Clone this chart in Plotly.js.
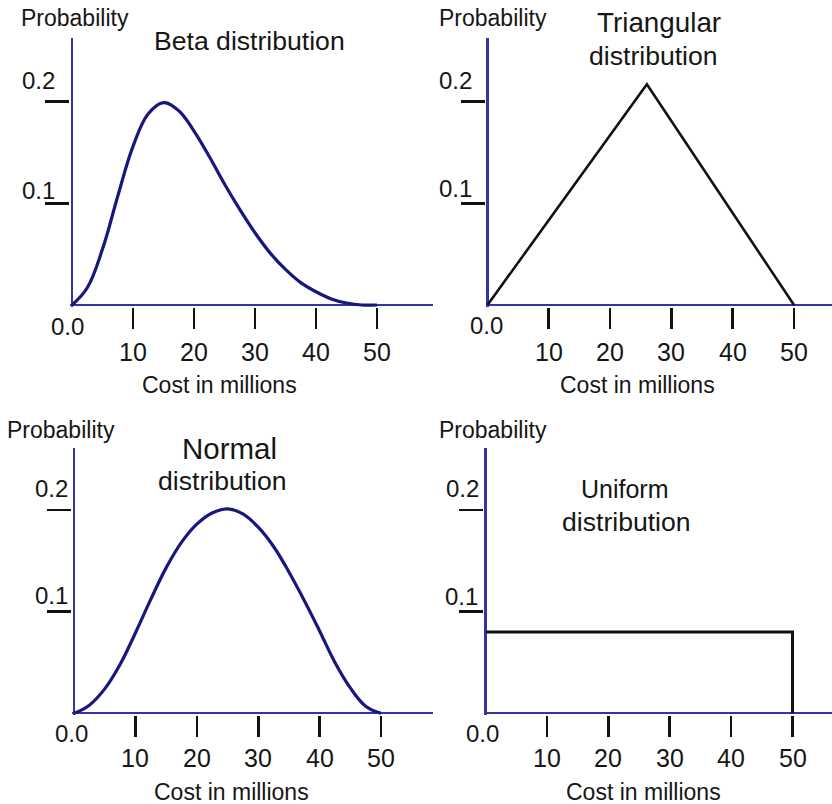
<!DOCTYPE html>
<html>
<head>
<meta charset="utf-8">
<script src="https://cdn.plot.ly/plotly-3.0.1.min.js"></script>
<style>html,body{margin:0;padding:0;background:#fff;}#chart{width:832px;height:804px;}</style>
</head>
<body>
<div id="chart"></div>
<script>
// ---------- data ----------
const costX = [0, 2.5, 5, 7.5, 10, 12.5, 15, 17.5, 20, 22.5, 25, 27.5, 30, 32.5, 35, 37.5, 40, 42.5, 45, 47.5, 50];
const betaP = [0, 0.017, 0.055, 0.107, 0.156, 0.188, 0.199, 0.191, 0.171, 0.146, 0.119, 0.094, 0.071, 0.051, 0.035, 0.022, 0.013, 0.006, 0.002, 0.0, 0.0];
const normalP = [0, 0.008, 0.024, 0.048, 0.079, 0.112, 0.143, 0.168, 0.186, 0.197, 0.201, 0.196, 0.183, 0.164, 0.139, 0.111, 0.081, 0.050, 0.025, 0.007, 0];
const triX = [0, 26, 50];
const triP = [0, 0.217, 0];
const uniX = [0, 50, 50];
const uniP = [0.08, 0.08, 0];
const xTickVals = [10, 20, 30, 40, 50];
const xTickText = ['10', '20', '30', '40', '50'];
const yTickVals = [0.1, 0.2];
const yTickText = ['0.1', '0.2'];
const originText = '0.0';
const xTitleText = 'Cost in millions';
const yTitleText = 'Probability';
const panelTitles = [['Beta distribution'], ['Triangular', 'distribution'], ['Normal', 'distribution'], ['Uniform', 'distribution']];

// ---------- geometry / style ----------
const W = 832, H = 804;
const FONT = 'Liberation Sans, Arial, sans-serif';
const TXT = '#161616';
const AXIS_BLUE = '#3434a4';
const CURVE = '#17177d';
const panels = [
  {x0: 72, y0: 305, sx: 6.1, sy: 1017, right: 433, top: 38,
   ylab: [[-34, 12.3], [-33.5, 20.6]], orig: [-4.5, -21.7], xlabShift: -47.5,
   yTitle: [75, 17.5], xTitle: [219, 385], title: [[249, 41]], titleSize: [26.6]},
  {x0: 487.5, y0: 305, sx: 6.13, sy: 1017, right: 832, top: 38,
   ylab: [[-32.5, 14.3], [-32, 20.6]], orig: [-1.5, -21], xlabShift: -47,
   yTitle: [493, 17.5], xTitle: [637.5, 385], title: [[658.5, 22.5], [653.5, 56]], titleSize: [27.8, 26.6]},
  {x0: 74, y0: 713.3, sx: 6.14, sy: 1017, right: 433, top: 448,
   ylab: [[-23, 16.6], [-22.5, 21.9]], orig: [-2.5, -20.2], xlabShift: -44.7,
   yTitle: [61, 429.5], xTitle: [231.5, 791.5], title: [[229, 448], [222, 481]], titleSize: [29.5, 26.6]},
  {x0: 485.5, y0: 713.3, sx: 6.14, sy: 1017, right: 832, top: 448,
   ylab: [[-24, 15.1], [-23, 21.9]], orig: [-3, -20.2], xlabShift: -44.7,
   yTitle: [493, 429.5], xTitle: [643.5, 791.5], title: [[624.5, 489], [626.5, 522]], titleSize: [25, 26.6]}
];

const traces = [
  {x: costX, y: betaP, xaxis: 'x', yaxis: 'y', mode: 'lines', line: {color: CURVE, width: 3.2, shape: 'spline', smoothing: 1.1}},
  {x: triX, y: triP, xaxis: 'x2', yaxis: 'y2', mode: 'lines', line: {color: '#111', width: 2.6}},
  {x: costX, y: normalP, xaxis: 'x3', yaxis: 'y3', mode: 'lines', line: {color: CURVE, width: 3.2, shape: 'spline', smoothing: 1.1}},
  {x: uniX, y: uniP, xaxis: 'x4', yaxis: 'y4', mode: 'lines', line: {color: '#111', width: 3}}
];
traces.forEach(t => { t.hoverinfo = 'skip'; t.showlegend = false; });

const layout = {
  width: W, height: H,
  margin: {l: 0, r: 0, t: 0, b: 0, pad: 0},
  paper_bgcolor: '#fff', plot_bgcolor: '#fff',
  showlegend: false,
  annotations: []
};

const pad = 2;
panels.forEach((p, i) => {
  const n = i === 0 ? '' : String(i + 1);
  const xa = 'xaxis' + n, ya = 'yaxis' + n;
  const xr = 'x' + n, yr = 'y' + n;
  layout[xa] = {
    domain: [(p.x0 - pad) / W, Math.min(1, p.right / W)],
    range: [-pad / p.sx, (p.right - p.x0) / p.sx],
    anchor: yr,
    showgrid: false, showline: false,
    zeroline: true, zerolinecolor: AXIS_BLUE, zerolinewidth: 2.2,
    ticks: 'outside', tickmode: 'array', tickvals: xTickVals, ticktext: xTickText,
    ticklen: 21, tickwidth: 2.6, tickcolor: '#111',
    showticklabels: false, fixedrange: true
  };
  layout[ya] = {
    domain: [1 - (p.y0 + pad) / H, 1 - p.top / H],
    range: [-pad / p.sy, (p.y0 - p.top) / p.sy],
    anchor: xr,
    showgrid: false, showline: false,
    zeroline: true, zerolinecolor: AXIS_BLUE, zerolinewidth: 2.2,
    ticks: 'outside', tickmode: 'array', tickvals: yTickVals, ticktext: yTickText,
    ticklen: 24, tickwidth: 2.6, tickcolor: '#111',
    showticklabels: false, fixedrange: true
  };
  // x tick labels
  xTickVals.forEach((v, k) => {
    layout.annotations.push({xref: xr, yref: yr, x: v, y: 0, text: xTickText[k], showarrow: false,
      xanchor: 'center', yanchor: 'middle', yshift: p.xlabShift, font: {family: FONT, size: 25, color: TXT}});
  });
  // y tick labels
  yTickVals.forEach((v, k) => {
    layout.annotations.push({xref: xr, yref: yr, x: 0, y: v, text: yTickText[k], showarrow: false,
      xanchor: 'center', yanchor: 'middle', xshift: p.ylab[k][0], yshift: p.ylab[k][1], font: {family: FONT, size: 24, color: TXT}});
  });
  layout.annotations.push({xref: xr, yref: yr, x: 0, y: 0, text: originText, showarrow: false,
    xanchor: 'center', yanchor: 'middle', xshift: p.orig[0], yshift: p.orig[1], font: {family: FONT, size: 24, color: TXT}});
  // axis titles
  layout.annotations.push({xref: 'paper', yref: 'paper', x: p.yTitle[0] / W, y: 1 - p.yTitle[1] / H, text: yTitleText,
    showarrow: false, xanchor: 'center', yanchor: 'middle', font: {family: FONT, size: 23, color: TXT}});
  layout.annotations.push({xref: 'paper', yref: 'paper', x: p.xTitle[0] / W, y: 1 - p.xTitle[1] / H, text: xTitleText,
    showarrow: false, xanchor: 'center', yanchor: 'middle', font: {family: FONT, size: 23, color: TXT}});
  // panel titles
  panelTitles[i].forEach((t, k) => {
    layout.annotations.push({xref: 'paper', yref: 'paper', x: p.title[k][0] / W, y: 1 - p.title[k][1] / H, text: t,
      showarrow: false, xanchor: 'center', yanchor: 'middle', font: {family: FONT, size: p.titleSize[k], color: TXT}});
  });
});

Plotly.newPlot('chart', traces, layout, {staticPlot: true, displayModeBar: false});
</script>
</body>
</html>
